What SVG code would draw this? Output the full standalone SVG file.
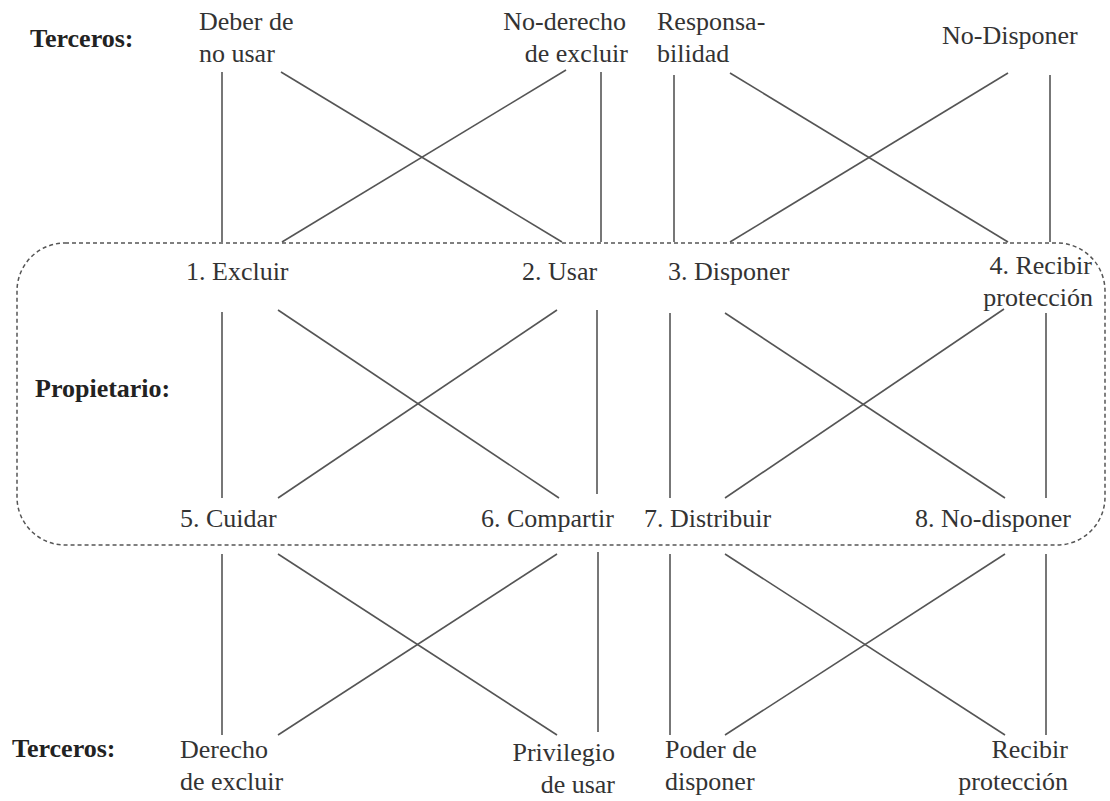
<svg xmlns="http://www.w3.org/2000/svg" width="1110" height="801" viewBox="0 0 1110 801">
<style>
text{font-family:"Liberation Serif","Times New Roman",serif;font-size:26px;fill:#333}
.b{font-weight:bold;fill:#222}
.e{text-anchor:end}
.c line{stroke:#555;stroke-width:1.6}
.box{fill:none;stroke:#555;stroke-width:1.5;stroke-dasharray:4 3}
</style>
<rect width="1110" height="801" fill="#fff"/>
<g id="owner-box"><rect class="box" x="17" y="243" width="1088" height="302" rx="48"/></g>
<g id="labels">
<text class="b" x="30" y="47">Terceros:</text>
<text class="b" x="35" y="397">Propietario:</text>
<text class="b" x="12" y="757">Terceros:</text>
</g>
<g id="t1"><text x="199" y="30">Deber de</text><text x="199" y="62">no usar</text></g>
<g id="t2"><text class="e" x="626" y="30">No-derecho</text><text class="e" x="628" y="62">de excluir</text></g>
<g id="t3"><text x="657" y="30">Responsa-</text><text x="657" y="62">bilidad</text></g>
<g id="t4"><text x="942" y="44">No-Disponer</text></g>
<g id="p1"><text x="186" y="280">1. Excluir</text></g>
<g id="p2"><text x="522" y="280">2. Usar</text></g>
<g id="p3"><text x="668" y="280">3. Disponer</text></g>
<g id="p4"><text class="e" x="1092" y="274">4. Recibir</text><text class="e" x="1093" y="306">protección</text></g>
<g id="p5"><text x="180" y="527">5. Cuidar</text></g>
<g id="p6"><text x="481" y="527">6. Compartir</text></g>
<g id="p7"><text x="644" y="527">7. Distribuir</text></g>
<g id="p8"><text x="915" y="527">8. No-disponer</text></g>
<g id="b1"><text x="180" y="758">Derecho</text><text x="180" y="790">de excluir</text></g>
<g id="b2"><text class="e" x="615" y="761">Privilegio</text><text class="e" x="615" y="793">de usar</text></g>
<g id="b3"><text x="665" y="758">Poder de</text><text x="665" y="790">disponer</text></g>
<g id="b4"><text class="e" x="1068" y="758">Recibir</text><text class="e" x="1068" y="790">protección</text></g>
<g id="connectors" class="c">
<line x1="222" y1="72" x2="222" y2="242"/>
<line x1="281" y1="72" x2="562" y2="242"/>
<line x1="566" y1="70" x2="282" y2="242"/>
<line x1="601" y1="72" x2="601" y2="242"/>
<line x1="674" y1="75" x2="674" y2="242"/>
<line x1="730" y1="73" x2="1008" y2="242"/>
<line x1="1008" y1="73" x2="730" y2="242"/>
<line x1="1050" y1="75" x2="1050" y2="242"/>

<line x1="222" y1="312" x2="222" y2="498"/>
<line x1="278" y1="310" x2="559" y2="498"/>
<line x1="557" y1="310" x2="278" y2="498"/>
<line x1="597" y1="310" x2="597" y2="494"/>
<line x1="670" y1="313" x2="670" y2="498"/>
<line x1="725" y1="313" x2="1005" y2="498"/>
<line x1="1004" y1="309" x2="725" y2="498"/>
<line x1="1046" y1="313" x2="1046" y2="498"/>

<line x1="222" y1="554" x2="222" y2="735"/>
<line x1="278" y1="554" x2="557" y2="735"/>
<line x1="557" y1="554" x2="278" y2="735"/>
<line x1="598" y1="552" x2="598" y2="732"/>
<line x1="670" y1="554" x2="670" y2="735"/>
<line x1="725" y1="554" x2="1005" y2="735"/>
<line x1="1005" y1="554" x2="725" y2="735"/>
<line x1="1046" y1="554" x2="1046" y2="735"/>
</g>
</svg>
